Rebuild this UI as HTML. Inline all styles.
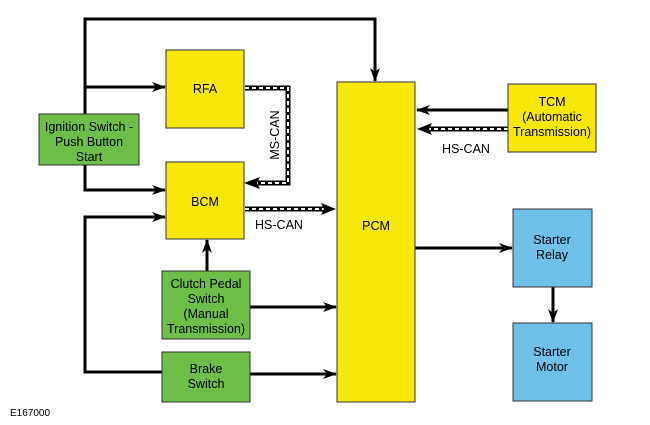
<html><head><style>body{margin:0;background:#fff}</style></head><body>
<svg width="650" height="425" viewBox="0 0 650 425" xmlns="http://www.w3.org/2000/svg" font-family="Liberation Sans, Arial, sans-serif" font-size="12.5">
<defs>
<marker id="a" markerWidth="14" markerHeight="10" refX="13" refY="5" orient="auto" markerUnits="userSpaceOnUse">
<path d="M0,0 L14,5 L0,10 L4,5 Z" fill="#000"/></marker>
</defs>
<g stroke="#000" stroke-width="3" fill="none">
<path d="M85,114 V19 H375 V81" marker-end="url(#a)"/>
<path d="M85,87 H165" marker-end="url(#a)"/>
<path d="M85,165 V190 H165" marker-end="url(#a)"/>
<path d="M162,372 H85 V217 H165" marker-end="url(#a)"/>
<path d="M207,271 V240" marker-end="url(#a)"/>
<path d="M250,307 H336" marker-end="url(#a)"/>
<path d="M250,374 H336" marker-end="url(#a)"/>
<path d="M415,248 H512" marker-end="url(#a)"/>
<path d="M553,287 V322" marker-end="url(#a)"/>
<path d="M508,110 H417" marker-end="url(#a)"/>
</g>
<g stroke="#000" stroke-width="5" fill="none">
<path d="M245,88 H288 V183 H258"/>
<path d="M245,209 H325"/>
<path d="M508,129 H430"/>
</g>
<g stroke="#fff" stroke-width="2" fill="none" stroke-dasharray="4,3">
<path d="M245,88 H288 V183 H258"/>
<path d="M245,209 H325"/>
<path d="M508,129 H430"/>
</g>
<path d="M244,183 L260,177 L257,183 L260,189 Z" fill="#000"/>
<path d="M336,209 L321,203 L324,209 L321,215 Z" fill="#000"/>
<path d="M417,129 L432,123 L429,129 L432,135 Z" fill="#000"/>
<g stroke="#333" stroke-width="1">
<rect x="166" y="50" width="78" height="78" fill="#f7e80a"/>
<rect x="166" y="162" width="78" height="77" fill="#f7e80a"/>
<rect x="337" y="82" width="78" height="320" fill="#f7e80a"/>
<rect x="508" y="84" width="88" height="68" fill="#f7e80a"/>
<rect x="39" y="114" width="100" height="51" fill="#6ebe4a"/>
<rect x="162" y="271" width="88" height="68" fill="#6ebe4a"/>
<rect x="162" y="352" width="88" height="50" fill="#6ebe4a"/>
<rect x="513" y="209" width="79" height="78" fill="#6fc1ea"/>
<rect x="513" y="323" width="79" height="78" fill="#6fc1ea"/>
</g>
<g fill="#000" text-anchor="middle">
<text x="205" y="93">RFA</text>
<text x="205" y="206">BCM</text>
<text x="376" y="230">PCM</text>
<text x="89" y="131">Ignition Switch -</text>
<text x="89" y="146">Push Button</text>
<text x="89" y="161">Start</text>
<text x="552" y="106">TCM</text>
<text x="552" y="121">(Automatic</text>
<text x="552" y="136">Transmission)</text>
<text x="206" y="288">Clutch Pedal</text>
<text x="206" y="303">Switch</text>
<text x="206" y="318">(Manual</text>
<text x="206" y="333">Transmission)</text>
<text x="206" y="373">Brake</text>
<text x="206" y="388">Switch</text>
<text x="552" y="244">Starter</text>
<text x="552" y="259">Relay</text>
<text x="552" y="356">Starter</text>
<text x="552" y="371">Motor</text>
<text x="279" y="229">HS-CAN</text>
<text x="466" y="153">HS-CAN</text>
<text x="0" y="0" transform="translate(279,135) rotate(-90)">MS-CAN</text>
</g>
<text x="10" y="416" font-size="10" fill="#000">E167000</text>
</svg>
</body></html>
